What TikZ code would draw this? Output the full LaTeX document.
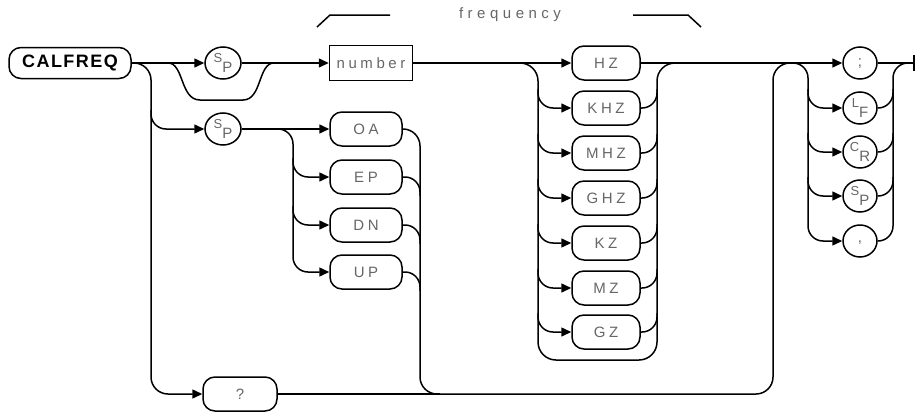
\documentclass[tikz,border=0pt]{standalone}
\usepackage{fontspec}
\setmainfont{Liberation Sans}
\newfontfamily\labfont[LetterSpace=24]{Liberation Sans}
\newfontfamily\calfont[LetterSpace=8]{Liberation Sans}
\newfontfamily\freqfont[LetterSpace=30]{Liberation Sans}
\usetikzlibrary{arrows.meta,shapes.geometric}
\newcommand\twolet[2]{\raisebox{5pt}{\fontsize{13}{13}\selectfont #1}\raisebox{-5pt}{\fontsize{15}{15}\selectfont #2}}
\tikzset{
  wire/.style={line width=1.5pt, rounded corners=15pt},
  arr/.style={-{Triangle[length=10pt,width=9pt]}},
  lab/.style={font=\labfont\fontsize{15}{17}\selectfont, text=black!60},
  term/.style={lab, draw, line width=1.5pt, rounded corners=12pt, minimum width=68pt, minimum height=34pt, inner sep=0pt},
  circ/.style={lab, draw, ellipse, line width=1.5pt, minimum width=36pt, minimum height=32pt, inner sep=0pt},
  brk/.style={line width=1.5pt}
}
\begin{document}
\begin{tikzpicture}[x=1pt,y=-1pt]
\useasboundingbox (0,0) rectangle (917,415);
% nodes
\node[draw, line width=1.5pt, rounded corners=12pt, minimum width=122pt, minimum height=31pt, inner sep=0pt, font=\calfont\bfseries\fontsize{18}{18}\selectfont] (cal) at (70,63) {CALFREQ};
\node[circ] (sp1) at (223,63) {\twolet{S}{P}};
\node[circ] (sp2) at (223,129) {\twolet{S}{P}};
\node[lab, draw, line width=1.5pt, minimum width=83pt, minimum height=35pt, inner sep=0pt] (num) at (371,63) {number};
\node[term] (hz) at (606,63) {HZ};
\node[term] (khz) at (606,108) {KHZ};
\node[term] (mhz) at (606,153) {MHZ};
\node[term] (ghz) at (606,198) {GHZ};
\node[term] (kz) at (606,243) {KZ};
\node[term] (mz) at (606,288) {MZ};
\node[term] (gz) at (606,332) {GZ};
\node[term, minimum width=72pt] (oa) at (366,129) {OA};
\node[term, minimum width=72pt] (ep) at (366,177) {EP};
\node[term, minimum width=72pt] (dn) at (366,225) {DN};
\node[term, minimum width=72pt] (up) at (366,272) {UP};
\node[term, minimum width=74pt] (qm) at (240,394) {?};
\node[circ, minimum width=34pt] (semi) at (860,63) {;};
\node[circ, minimum width=34pt] (lf) at (860,108) {\twolet{L}{F}};
\node[circ, minimum width=34pt] (cr) at (860,152) {\twolet{C}{R}};
\node[circ, minimum width=34pt] (sp3) at (860,196) {\twolet{S}{P}};
\node[circ, minimum width=34pt] (comma) at (860,241) {\raisebox{-4pt}{,}};
\node[lab, font=\freqfont\fontsize{15}{17}\selectfont] (freq) at (510,15) {frequency};
\coordinate (end) at (914,63);
% frequency bracket
\draw[brk] (317,27) -- (330,15) -- (390,15);
\draw[brk] (633,15) -- (688,15) -- (701,27);
% main line
\draw[wire,arr] (cal.east) -- (sp1.west);
\draw[wire,arr] (sp1.east) -- (num.west);
\draw[wire,arr] (num.east) -- (hz.west);
\draw[wire,arr] (hz.east) -- (semi.west);
\draw[wire] (semi.east) -- (end);
\draw[brk] ([yshift=-8pt]end) -- ([yshift=8pt]end);
% bypass under first SP
\draw[brk] (168,63) .. controls (184,63) and (180,100) .. (200,100) -- (243,100) .. controls (262,100) and (258,63) .. (274,63);
% left rail
\draw[wire,rounded corners=17pt,arr] (cal.east) -- (151,63) -- (151,394) -- (qm.west);
\draw[wire,arr] (151,110) -- (151,129) -- (sp2.west);
% OA group
\draw[wire,arr] (sp2.east) -- (oa.west);
\draw[wire,arr] (276,129) -- (293,129) -- (293,272) -- (up.west);
\draw[wire,arr] (293,158) -- (293,177) -- (ep.west);
\draw[wire,arr] (293,206) -- (293,225) -- (dn.west);
\draw[wire,rounded corners=17pt] (oa.east) -- (420,129) -- (420,394) -- (773,394) -- (773,63) -- (792,63);
\draw[wire] (ep.east) -- (420,177) -- (420,196);
\draw[wire] (dn.east) -- (420,225) -- (420,244);
\draw[wire] (up.east) -- (420,272) -- (420,291);
\draw[wire] (qm.east) -- (440,394);
% frequency group
\draw[wire,rounded corners=18pt] (520,63) -- (538,63) -- (538,360) -- (657,360) -- (657,63) -- (675,63);
\foreach \n/\y in {khz/108,mhz/153,ghz/198,kz/243,mz/288,gz/332}{
  \draw[wire,arr] (538,\y-19) -- (538,\y) -- (\n.west);
  \draw[wire] (\n.east) -- (657,\y) -- (657,\y-19);
}
% terminator group
\draw[wire,arr] (790,63) -- (808,63) -- (808,241) -- (comma.west);
\foreach \n/\y in {lf/108,cr/152,sp3/196}{
  \draw[wire,arr] (808,\y-19) -- (808,\y) -- (\n.west);
  \draw[wire] (\n.east) -- (893,\y) -- (893,\y-19);
}
\draw[wire] (comma.east) -- (893,241) -- (893,63) -- (910,63);
\end{tikzpicture}
\end{document}
